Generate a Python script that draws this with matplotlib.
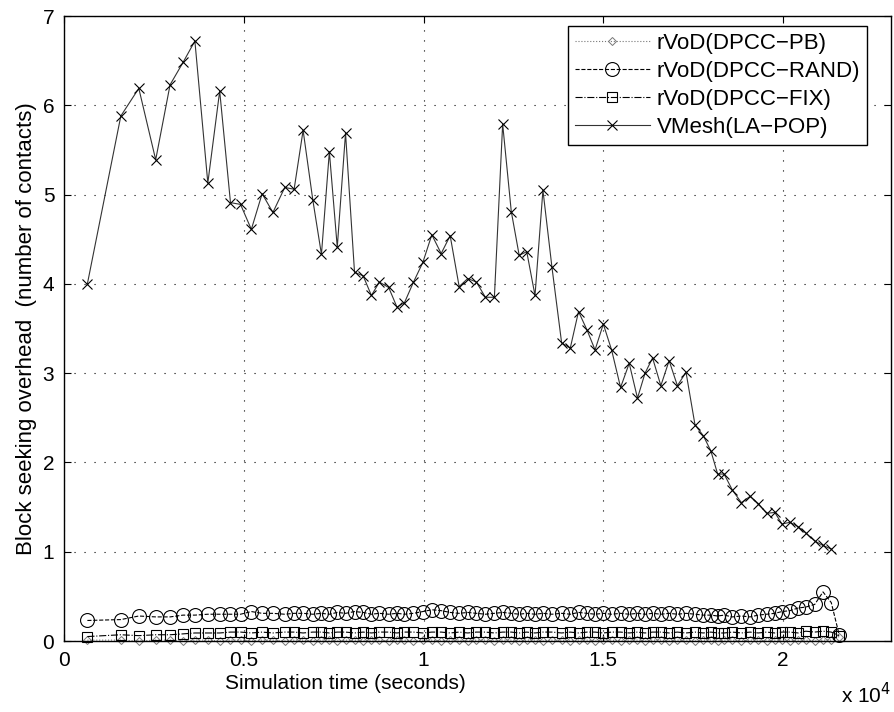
import numpy as np
import matplotlib
matplotlib.use('Agg')
import matplotlib.pyplot as plt
from matplotlib.ticker import FuncFormatter

plt.rcParams['font.family'] = ['Liberation Sans', 'DejaVu Sans']

# sample times (seconds)
t_vmesh = [650, 1580, 2080, 2550, 2950, 3310, 3640, 4000, 4330, 4630,
           4910, 5210, 5510, 5810, 6140, 6400, 6650, 6920, 7160, 7380,
           7600, 7830, 8080, 8320, 8550, 8770, 9030, 9260, 9470, 9720,
           9980, 10230, 10490, 10740, 10990, 11230, 11470, 11720, 11970, 12200,
           12440, 12660, 12870, 13100, 13320, 13570, 13840, 14080, 14310, 14550,
           14770, 15000, 15230, 15480, 15720, 15950, 16160, 16370, 16600, 16830,
           17060, 17300, 17550, 17780, 17990, 18180, 18360, 18590, 18840, 19080,
           19310, 19540, 19770, 19970, 20190, 20420, 20630, 20880, 21110, 21340]
t_rvod = t_vmesh + [21560]

vmesh = [4.00, 5.88, 6.19, 5.39, 6.23, 6.48, 6.72, 5.13, 6.16, 4.91,
         4.89, 4.61, 5.01, 4.80, 5.08, 5.06, 5.72, 4.94, 4.33, 5.48,
         4.41, 5.69, 4.13, 4.09, 3.87, 4.02, 3.96, 3.74, 3.79, 4.02,
         4.24, 4.55, 4.34, 4.54, 3.97, 4.06, 4.02, 3.85, 3.85, 5.79,
         4.81, 4.32, 4.36, 3.87, 5.05, 4.19, 3.34, 3.28, 3.69, 3.48,
         3.26, 3.55, 3.26, 2.84, 3.11, 2.72, 3.00, 3.17, 2.86, 3.14,
         2.86, 3.01, 2.42, 2.30, 2.13, 1.87, 1.87, 1.69, 1.55, 1.62,
         1.54, 1.43, 1.44, 1.31, 1.33, 1.28, 1.21, 1.12, 1.07, 1.03]

rand = [0.23, 0.24, 0.28, 0.27, 0.27, 0.29, 0.29, 0.30, 0.30, 0.30,
        0.30, 0.33, 0.31, 0.31, 0.30, 0.31, 0.31, 0.30, 0.31, 0.30,
        0.32, 0.31, 0.33, 0.32, 0.30, 0.31, 0.30, 0.31, 0.30, 0.31,
        0.33, 0.35, 0.34, 0.32, 0.31, 0.32, 0.31, 0.30, 0.31, 0.32,
        0.31, 0.30, 0.31, 0.30, 0.31, 0.30, 0.31, 0.30, 0.32, 0.31,
        0.30, 0.31, 0.30, 0.31, 0.30, 0.31, 0.30, 0.31, 0.30, 0.31,
        0.30, 0.31, 0.30, 0.29, 0.29, 0.28, 0.29, 0.27, 0.28, 0.27,
        0.29, 0.30, 0.31, 0.33, 0.34, 0.37, 0.38, 0.41, 0.55, 0.43,
        0.07]

fix = [0.05, 0.07, 0.06, 0.07, 0.07, 0.08, 0.09, 0.09, 0.09, 0.10,
       0.10, 0.09, 0.10, 0.09, 0.10, 0.10, 0.09, 0.10, 0.10, 0.09,
       0.10, 0.10, 0.09, 0.10, 0.09, 0.10, 0.10, 0.09, 0.10, 0.10,
       0.09, 0.10, 0.10, 0.09, 0.10, 0.09, 0.10, 0.10, 0.09, 0.10,
       0.10, 0.09, 0.10, 0.09, 0.10, 0.10, 0.09, 0.10, 0.09, 0.10,
       0.10, 0.09, 0.10, 0.10, 0.09, 0.10, 0.09, 0.10, 0.10, 0.09,
       0.10, 0.09, 0.10, 0.09, 0.10, 0.09, 0.09, 0.10, 0.09, 0.10,
       0.09, 0.10, 0.09, 0.10, 0.10, 0.09, 0.11, 0.10, 0.11, 0.10,
       0.06]

pb = [0.01, 0.01, 0.00, 0.01, 0.01, 0.00, 0.01, 0.01, 0.00, 0.01,
      0.01, 0.00, 0.01, 0.01, 0.00, 0.01, 0.01, 0.00, 0.01, 0.01,
      0.00, 0.01, 0.01, 0.00, 0.01, 0.01, 0.00, 0.01, 0.01, 0.00,
      0.01, 0.01, 0.00, 0.01, 0.01, 0.00, 0.01, 0.01, 0.00, 0.01,
      0.01, 0.00, 0.01, 0.01, 0.00, 0.01, 0.01, 0.00, 0.01, 0.01,
      0.00, 0.01, 0.01, 0.00, 0.01, 0.01, 0.00, 0.01, 0.01, 0.00,
      0.01, 0.01, 0.00, 0.01, 0.01, 0.00, 0.01, 0.01, 0.00, 0.01,
      0.01, 0.00, 0.01, 0.01, 0.00, 0.01, 0.01, 0.00, 0.01, 0.01,
      0.05]

labels = ['rVoD(DPCC\u2212PB)', 'rVoD(DPCC\u2212RAND)', 'rVoD(DPCC\u2212FIX)', 'VMesh(LA\u2212POP)']

fig = plt.figure(figsize=(8.94, 7.12), dpi=100)
ax = fig.add_axes([0.0716, 0.0997, 0.925, 0.8778])

ax.plot(t_rvod, pb, linestyle=':', color='#777777', lw=0.8, marker='D', ms=4.5,
        mfc='none', mec='#777777', mew=0.7, clip_on=False, label=labels[0])
ax.plot(t_rvod, rand, linestyle='--', color='black', lw=0.8, marker='o', ms=10,
        mfc='none', mec='black', mew=0.8, clip_on=False, label=labels[1])
ax.plot(t_rvod, fix, linestyle='-.', color='black', lw=0.8, marker='s', ms=7.5,
        mfc='none', mec='black', mew=0.8, clip_on=False, label=labels[2])
ax.plot(t_vmesh, vmesh, linestyle='-', color='#333333', lw=0.8, marker='x', ms=7.5,
        mec='black', mew=0.8, label=labels[3])

ax.set_xlim(0, 23000)
ax.set_ylim(0, 7)
ax.set_xticks([0, 5000, 10000, 15000, 20000])
ax.set_yticks(range(8))
ax.xaxis.set_major_formatter(FuncFormatter(lambda v, p: f'{v / 1e4:g}'))

ax.grid(True, color='black', linestyle=(0, (1, 8)), linewidth=0.8)
ax.tick_params(direction='in', top=True, right=True, length=5, width=0.8,
               labelsize=15, pad=7)
for s in ax.spines.values():
    s.set_linewidth(1.0)

ax.set_xlabel('Simulation time (seconds)', fontsize=15)
ax.xaxis.set_label_coords(0.34, -0.052, transform=ax.transAxes)
ax.xaxis.label.set_va('top')
ax.set_ylabel('Block seeking overhead  (number of contacts)', fontsize=16)
ax.text(1.0, -0.1, r'x 10$^4$', transform=ax.transAxes, ha='right', va='baseline',
        fontsize=15)

leg = ax.legend(loc='upper right', bbox_to_anchor=(0.971, 0.984), fontsize=16,
                handlelength=3.4, labelspacing=0.32, borderpad=0.3,
                handletextpad=0.3, fancybox=False, framealpha=1,
                edgecolor='black', borderaxespad=0)
leg.get_frame().set_linewidth(1.0)

fig.savefig('out.png', dpi=100)
